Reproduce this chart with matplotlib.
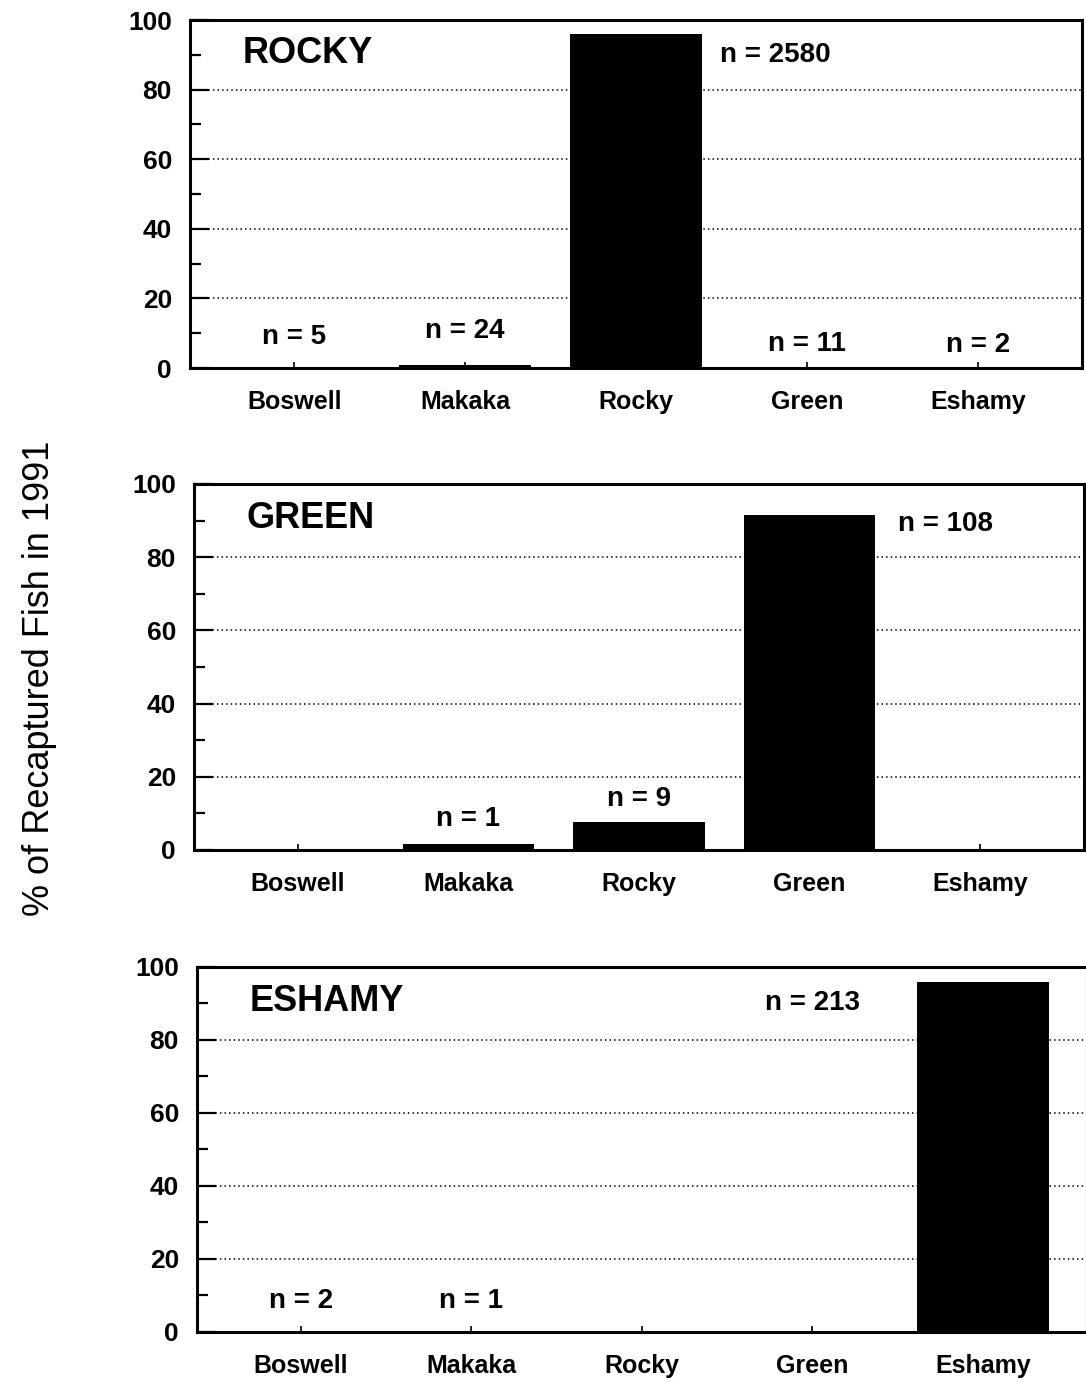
import matplotlib.pyplot as plt
import numpy as np

plt.rcParams['font.family'] = ['Liberation Sans', 'DejaVu Sans']

sites = ['Boswell', 'Makaka', 'Rocky', 'Green', 'Eshamy']

# percent of recaptured fish by recapture site, one list per release site
rocky_pct = [0.2, 1.0, 96.0, 0.4, 0.1]
green_pct = [0.0, 1.5, 7.5, 91.5, 0.0]
eshamy_pct = [0.4, 0.2, 0.0, 0.0, 96.0]

# sample size labels: (site index, text, y, alignment)
rocky_n = [(0, 'n = 5', 8.8, 'center'), (1, 'n = 24', 10.5, 'center'),
           (2.49, 'n = 2580', 90, 'left'), (3, 'n = 11', 7, 'center'),
           (4, 'n = 2', 6.5, 'center')]
green_n = [(1, 'n = 1', 8.5, 'center'), (2, 'n = 9', 14, 'center'),
           (3.52, 'n = 108', 89, 'left')]
eshamy_n = [(0, 'n = 2', 8.5, 'center'), (1, 'n = 1', 8.5, 'center'),
            (3, 'n = 213', 90, 'center')]

panels = [
    ('ROCKY', rocky_pct, rocky_n, [0.175, 0.7337, 0.8214, 0.2518]),
    ('GREEN', green_pct, green_n, [0.1786, 0.3850, 0.8195, 0.2648]),
    ('ESHAMY', eshamy_pct, eshamy_n, [0.1814, 0.0362, 0.8195, 0.2641]),
]

fig = plt.figure(figsize=(10.86, 13.82), dpi=100)

x = np.arange(len(sites))
for name, pct, nlab, pos in panels:
    ax = fig.add_axes(pos)
    ax.bar(x, pct, width=0.77, color='black', zorder=3)
    ax.set_xlim(-0.61, 4.61)
    ax.set_ylim(0, 100)
    ax.set_yticks([0, 20, 40, 60, 80, 100])
    ax.set_yticks([10, 30, 50, 70, 90], minor=True)
    ax.set_xticks(x)
    ax.set_xticklabels(sites, fontsize=18, fontweight='bold')
    for lab in ax.get_yticklabels():
        lab.set_fontweight('bold')
    ax.tick_params(axis='y', which='major', direction='in', length=14,
                   width=1.6, labelsize=19, pad=13)
    ax.tick_params(axis='y', which='minor', direction='in', length=8,
                   width=1.6)
    ax.tick_params(axis='x', direction='in', length=4, width=1.2, pad=16)
    for yv in [20, 40, 60, 80]:
        ax.axhline(yv, color='black', lw=1.1, ls=(0, (1, 2)), zorder=1)
    for sp in ax.spines.values():
        sp.set_linewidth(2.2)
    ax.text(-0.30, 90.5, name, fontsize=26, fontweight='bold',
            ha='left', va='center')
    for xi, txt, yv, ha in nlab:
        ax.text(xi, yv, txt, fontsize=20, fontweight='bold',
                ha=ha, va='center')

fig.text(0.036, 0.509, '% of Recaptured Fish in 1991', rotation=90,
         fontsize=26, ha='center', va='center')

fig.savefig('out.png', dpi=100, facecolor='white')
